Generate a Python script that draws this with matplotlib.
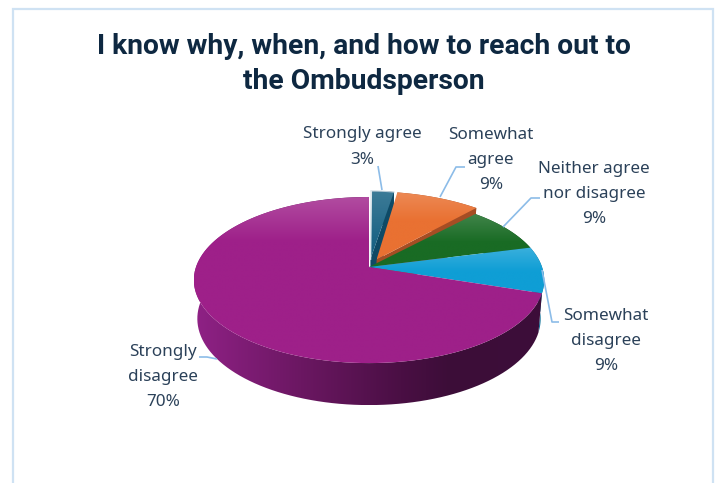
import numpy as np
import matplotlib
matplotlib.use("Agg")
import matplotlib.pyplot as plt
from matplotlib.patches import Polygon
from matplotlib.colors import to_rgb

# ---- data ----
categories = ["Strongly agree", "Somewhat\nagree", "Neither agree\nnor disagree",
              "Somewhat\ndisagree", "Strongly\ndisagree"]
values = [3, 9, 9, 9, 70]
colors = ["#156082", "#E97132", "#196B24", "#0F9ED5", "#9E2089"]
wall_colors = ["#0E4A66", "#A54D24", "#10501B", "#0A6F96", "#3D0E39"]
explode = [0.10, 0.105, 0, 0, 0]
title = "I know why, when, and how to reach out to\nthe Ombudsperson"

# ---- layout (pixels) ----
CX, CY, A, K, P = 369, 267, 173, 81, 0.157
DEPTH_MID, DEPTH_TILT, WALL_SHRINK = 38, 4, 0.98
x_scale = [0.82, 1, 1, 1, 1]
x_shear = [-1, 6, 0, 0, 0]
label_pos = [(362, 147), (491, 160), (594, 194), (606, 341), (163, 377)]
leaders = [
    [(378, 166), (382, 190)],
    [(465, 167), (456, 167), (440, 197)],
    [(540, 198), (531, 198), (503, 227)],
    [(559, 322), (552, 322), (542, 270)],
    [(199, 357), (207, 357), (217, 359)],
]
frame = [(12.5, 483), (12.5, 8.5), (713, 8.5), (713, 483)]
frame_color = "#CFE2F3"
leader_color = "#8CBCE8"
text_color = "#2B4159"
title_color = "#0E2841"
fades = [60, 28, 28, 24, 45]
lighten = [0.17, 0.17, 0.17, 0.18, 0.20]

fig = plt.figure(figsize=(7.19, 4.83), dpi=100, facecolor="white")
ax = fig.add_axes([0, 0, 1, 1])
ax.set_xlim(0, 719)
ax.set_ylim(483, 0)
ax.axis("off")


def project(u, v):
    s = 1 / (1 + P * v)
    return CX + A * u * s, CY - K * v * s


def drop(x, y, v):
    return CX + WALL_SHRINK * (x - CX), y + DEPTH_MID - DEPTH_TILT * v


def slice_top(i, t0, t1, e):
    mid = (t0 + t1) / 2
    ox, oy = e * np.sin(mid), e * np.cos(mid)
    th = np.linspace(t0, t1, 120)
    u = np.r_[ox, ox + np.sin(th)]
    v = np.r_[oy, oy + np.cos(th)]
    x, y = project(u, v)
    x = CX + (x - CX) * x_scale[i] - x_shear[i] * v
    return np.c_[x, y], u, v


def vertical_gradient(poly, base, fade, amount, z):
    xmin, xmax = poly[:, 0].min(), poly[:, 0].max()
    ymin, ymax = poly[:, 1].min(), poly[:, 1].max()
    n = 200
    ys = np.linspace(ymin, ymax, n)
    t = np.clip((ys - ymin) / fade, 0, 1)
    amt = (amount * (1 - t))[:, None]
    b = np.array(to_rgb(base))
    img = (b + amt * (1 - b))[:, None, :]
    im = ax.imshow(img, extent=(xmin, xmax, ymax, ymin), aspect="auto",
                   zorder=z, interpolation="bilinear")
    im.set_clip_path(Polygon(poly, transform=ax.transData))


def wall_gradient(poly, z):
    xmin, xmax = poly[:, 0].min(), poly[:, 0].max()
    ymin, ymax = poly[:, 1].min(), poly[:, 1].max()
    xs = np.linspace(xmin, xmax, 400)
    stops_x = [195, 300, 400, 450, 545]
    stops = np.array([to_rgb(c) for c in ["#8F2185", "#6B1762", "#4A0F44", "#3C0D38", "#3D0E3A"]])
    img = np.stack([np.interp(xs, stops_x, stops[:, i]) for i in range(3)], axis=1)[None, :, :]
    im = ax.imshow(img, extent=(xmin, xmax, ymax, ymin), aspect="auto", zorder=z,
                   interpolation="bilinear")
    im.set_clip_path(Polygon(poly, transform=ax.transData))


edges = np.r_[0, np.cumsum(values)] / sum(values) * 2 * np.pi
z = 1
for i, val in enumerate(values):
    t0, t1 = edges[i], edges[i + 1]
    poly, u, v = slice_top(i, t0, t1, explode[i])
    # outer wall
    ox, oy = poly[1:, 0], poly[1:, 1]
    bx, by = drop(ox, oy, v[1:])
    wall = np.r_[np.c_[ox, oy], np.c_[bx, by][::-1]]
    if i == 4:
        wall_gradient(wall, z)
    else:
        ax.add_patch(Polygon(wall, closed=True, fc=wall_colors[i], ec="none", zorder=z))
    z += 1
    # radial end wall of exploded slices
    if explode[i] > 0:
        ax_, ay_ = poly[0]
        ex_, ey_ = poly[-1]
        b0 = drop(ax_, ay_, v[0])
        b1 = drop(ex_, ey_, v[-1])
        ax.add_patch(Polygon([(ax_, ay_), (ex_, ey_), b1, b0], closed=True,
                             fc=wall_colors[i], ec="none", zorder=z))
        z += 1
    vertical_gradient(poly, colors[i], fades[i], lighten[i], z)
    z += 1
    if i == 0:
        ax.plot(poly[[0, 1], 0], poly[[0, 1], 1], color="#DCE6EC", lw=1.2, zorder=50)
        ax.plot(poly[1:, 0], poly[1:, 1], color="#B9CBD6", lw=0.8, zorder=z)
        z += 1

# frame
ax.plot(*zip(*frame), color=frame_color, lw=1.6, zorder=60, solid_joinstyle="miter")

# leaders
for pts in leaders:
    ax.plot(*zip(*pts), color=leader_color, lw=1.2, zorder=70, solid_capstyle="butt")

# labels
for cat, val, (lx, ly) in zip(categories, values, label_pos):
    ax.text(lx, ly, f"{cat}\n{val}%", ha="center", va="center", color=text_color,
            fontsize=12.3, family="Noto Sans", linespacing=1.75, zorder=80)

ax.text(364, 64, title, ha="center", va="center", color=title_color, fontsize=20.3,
        family="Roboto", fontweight="bold", linespacing=1.38, zorder=80)

fig.savefig("out.png", dpi=100)
